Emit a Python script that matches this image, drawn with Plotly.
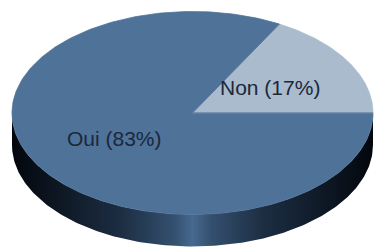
import numpy as np
import plotly.graph_objects as go

labels = ["Non", "Oui"]
values = [17, 83]
top_colors = ["#a9bbcd", "#4f7299"]

W, H = 376, 248
cx, cy = 192.5, 113.0
rx, ry = 180.5, 101.5
depth = 32.0

fig = go.Figure()

# side wall (front half of the disc)
t = np.linspace(np.pi, 2 * np.pi, 200)
xs_top = cx + rx * np.cos(t)
ys_top = cy - ry * np.sin(t)
xs = np.concatenate([xs_top, xs_top[::-1]])
ys = np.concatenate([ys_top, (ys_top + depth)[::-1]])
fig.add_trace(go.Scatter(
    x=xs, y=ys, mode="lines", fill="toself", line=dict(width=0),
    fillgradient=dict(type="horizontal", colorscale=[
        [0.0, "#03070c"], [0.1, "#0b141e"], [0.3, "#1c2d42"],
        [0.45, "#34506f"], [0.5, "#47698f"], [0.55, "#34506f"],
        [0.7, "#1c2d42"], [0.9, "#0b141e"], [1.0, "#03070c"]]),
    hoverinfo="skip", showlegend=False))

total = sum(values)
start = 0.0
for lab, v, col in zip(labels, values, top_colors):
    a0 = start
    a1 = start + 2 * np.pi * v / total
    tt = np.linspace(a0, a1, 300)
    px = np.concatenate([[cx], cx + rx * np.cos(tt), [cx]])
    py = np.concatenate([[cy], cy - ry * np.sin(tt), [cy]])
    fig.add_trace(go.Scatter(
        x=px, y=py, mode="lines", fill="toself", fillcolor=col,
        line=dict(width=0.8, color=col), hoverinfo="skip", showlegend=False))
    mid = (a0 + a1) / 2
    pct = round(100 * v / total)
    fig.add_annotation(
        x=cx + 0.5 * rx * np.cos(mid), y=cy - 0.5 * ry * np.sin(mid),
        text=f"{lab} ({pct}%)", showarrow=False,
        font=dict(family="Liberation Sans, Arial", size=21, color="#1b283a"))
    start = a1

# subtle shadow line along the Non wedge lower edge
fig.add_trace(go.Scatter(
    x=[cx, cx + rx], y=[cy, cy], mode="lines",
    line=dict(width=1, color="#6f87a3"), hoverinfo="skip", showlegend=False))

fig.update_layout(
    width=W, height=H, margin=dict(l=0, r=0, t=0, b=0),
    paper_bgcolor="white", plot_bgcolor="white",
    xaxis=dict(range=[0, W], visible=False, fixedrange=True),
    yaxis=dict(range=[H, 0], visible=False, fixedrange=True),
)
fig.write_html("out.html", config={"displayModeBar": False},
               post_script="document.body.style.margin='0px';document.body.style.overflow='hidden';")
